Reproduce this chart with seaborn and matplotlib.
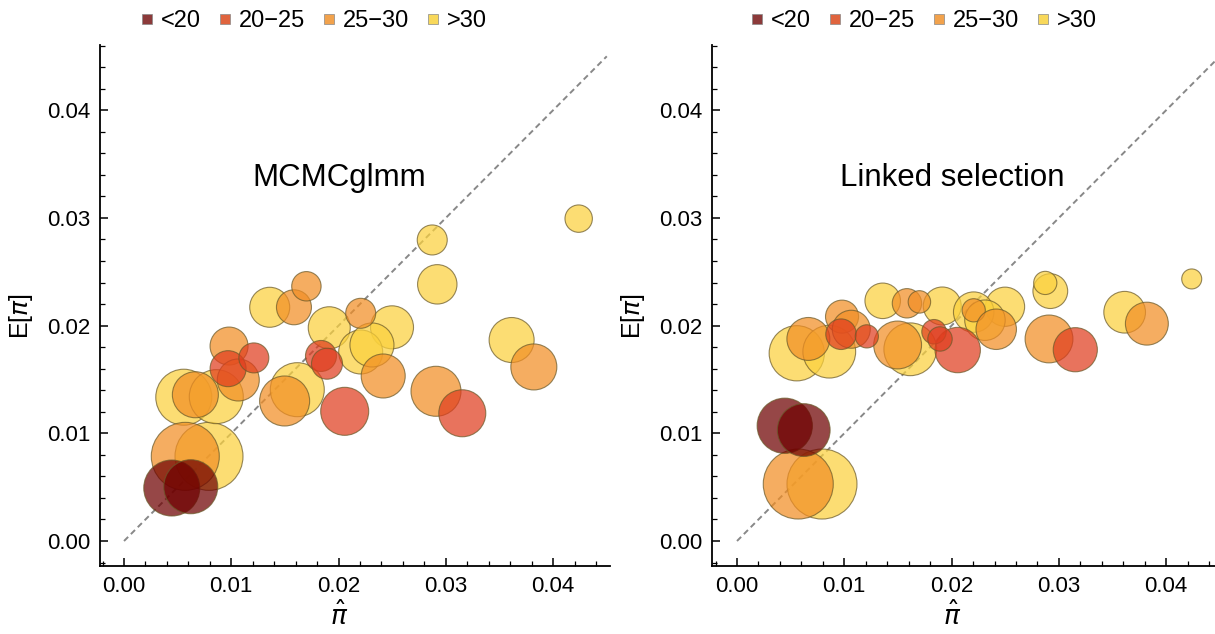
import matplotlib
matplotlib.use("Agg")
import matplotlib.pyplot as plt
import seaborn as sns
import pandas as pd
import numpy as np
from matplotlib.lines import Line2D
from matplotlib.ticker import MultipleLocator, FormatStrFormatter

# ---------------- data ----------------
categories = ["<20", "20-25", "25-30", ">30"]

pi_hat = [0.00445, 0.00622, 0.00571, 0.00792, 0.00557, 0.00665, 0.00860, 0.00979,
          0.00970, 0.01210, 0.01065, 0.01615, 0.01497, 0.02057, 0.01836, 0.01892,
          0.01358, 0.01584, 0.01700, 0.01913, 0.02206, 0.02498, 0.02206, 0.02311,
          0.02416, 0.02908, 0.03153, 0.03613, 0.03820, 0.02920, 0.02873, 0.04238]

e_pi_mcmc = [0.00492, 0.00504, 0.00786, 0.00786, 0.01335, 0.01358, 0.01340, 0.01810,
             0.01600, 0.01700, 0.01495, 0.01405, 0.01300, 0.01204, 0.01718, 0.01646,
             0.02170, 0.02170, 0.02365, 0.01980, 0.02114, 0.01984, 0.01755, 0.01820,
             0.01532, 0.01390, 0.01186, 0.01866, 0.01616, 0.02383, 0.02795, 0.02993]

e_pi_linked = [0.01070, 0.01030, 0.00529, 0.00529, 0.01743, 0.01876, 0.01758, 0.02083,
               0.01920, 0.01900, 0.01966, 0.01780, 0.01820, 0.01773, 0.01943, 0.01876,
               0.02230, 0.02207, 0.02220, 0.02182, 0.02142, 0.02175, 0.02125, 0.02050,
               0.01966, 0.01876, 0.01776, 0.02124, 0.02018, 0.02320, 0.02396, 0.02433]

group = ["<20", "<20", "25-30", ">30", ">30", "25-30", ">30", "25-30",
         "20-25", "20-25", "25-30", ">30", "25-30", "20-25", "20-25", "20-25",
         ">30", "25-30", "25-30", ">30", "25-30", ">30", ">30", ">30",
         "25-30", "25-30", "20-25", ">30", "25-30", ">30", ">30", ">30"]

weight = [28, 27, 34, 34, 28, 23, 27, 19, 18, 15, 21, 27, 25, 24, 15.5, 15.5,
          20, 17.5, 14.7, 21, 15, 21.5, 22, 22, 22, 25, 23.5, 22.5, 23, 19.7, 15, 13.7]

ticks = [0.00, 0.01, 0.02, 0.03, 0.04]

# ---------------- style ----------------
palette = {"<20": "#6e0000", "20-25": "#e03d1e", "25-30": "#f28e24", ">30": "#fbd13d"}
legend_colors = {"<20": "#8c3a3a", "20-25": "#e0643e", "25-30": "#f2a24c", ">30": "#f8d85a"}

sns.set_theme(style="white")
plt.rcParams["font.family"] = ["Liberation Sans", "DejaVu Sans"]
plt.rcParams["mathtext.fontset"] = "dejavusans"
plt.rcParams["text.color"] = "black"
plt.rcParams["axes.labelcolor"] = "black"

fig = plt.figure(figsize=(12.15, 6.34), dpi=100)
W, H = 1215, 634
ax1 = fig.add_axes([100 / W, 68 / H, 510 / W, 521 / H])
ax2 = fig.add_axes([712 / W, 68 / H, 503 / W, 521 / H])

df = pd.DataFrame({"pi_hat": pi_hat, "mcmc": e_pi_mcmc, "linked": e_pi_linked,
                   "group": group, "weight": weight})
order = {">30": 0, "25-30": 1, "20-25": 2, "<20": 3}
df["ord"] = df["group"].map(order)
df = df.sort_values("ord", kind="stable")

wmin, wmax = min(weight), max(weight)


def size_map(rmin, rmax):
    out = {}
    for w in sorted(set(weight)):
        r = rmin + (w - wmin) / (wmax - wmin) * (rmax - rmin)  # radius in px
        out[w] = (2 * r * 0.72) ** 2
    return out


panels = [
    (ax1, "mcmc", "MCMCglmm", (-0.00224, 0.0453), size_map(13.7, 34)),
    (ax2, "linked", "Linked selection", (-0.00233, 0.04455), size_map(10, 35)),
]

for ax, col, title, xlim, smap in panels:
    ax.plot([0, 0.045], [0, 0.045], ls=(0, (3, 2)), color="#888888", lw=1.4, zorder=1)
    sns.scatterplot(data=df, x="pi_hat", y=col, hue="group", palette=palette,
                    size="weight", sizes=smap, alpha=0.72, edgecolor="#6b5a2a",
                    linewidth=0.8, legend=False, ax=ax, zorder=2)
    ax.set_xlim(*xlim)
    ax.set_ylim(-0.00232, 0.04605)
    ax.set_xticks(ticks)
    ax.set_yticks(ticks)
    ax.xaxis.set_major_formatter(FormatStrFormatter("%.2f"))
    ax.yaxis.set_major_formatter(FormatStrFormatter("%.2f"))
    ax.xaxis.set_minor_locator(MultipleLocator(0.002))
    ax.yaxis.set_minor_locator(MultipleLocator(0.002))
    ax.tick_params(which="major", direction="in", length=6, width=1.1, labelsize=16,
                   colors="black", pad=7, bottom=True, left=True)
    ax.tick_params(which="minor", direction="in", length=3.5, width=0.9,
                   colors="black", bottom=True, left=True)
    for s in ["top", "right"]:
        ax.spines[s].set_visible(False)
    for s in ["left", "bottom"]:
        ax.spines[s].set_color("black")
        ax.spines[s].set_linewidth(1.3)
    ax.set_xlabel(r"$\hat{\pi}$", fontsize=19, color="black")
    ax.set_ylabel(r"E[$\pi$]", fontsize=18, color="black")
    ax.text(0.02004, 0.0337, title, ha="center", va="center", fontsize=22.5, color="black")
    ax.grid(False)

ax1.xaxis.set_label_coords(0.469, -0.066)
ax2.xaxis.set_label_coords(0.477, -0.066)
ax1.yaxis.set_label_coords(-0.128, 0.48)
ax2.yaxis.set_label_coords(-0.129, 0.48)

handles = [Line2D([0], [0], marker="s", ls="", markersize=6.5,
                  markerfacecolor=legend_colors[c], markeredgecolor="#888888",
                  markeredgewidth=0.5, label=c.replace("-", "\u2212")) for c in categories]
for ax, xc in [(ax1, 0.416), (ax2, 0.4175)]:
    leg = ax.legend(handles=handles, loc="center", bbox_to_anchor=(xc, 1.046), ncol=4,
                    frameon=False, fontsize=17, handletextpad=0.2, columnspacing=0.6,
                    handlelength=0.8, borderaxespad=0)
    for t in leg.get_texts():
        t.set_color("black")

fig.savefig("out.png", dpi=100)
